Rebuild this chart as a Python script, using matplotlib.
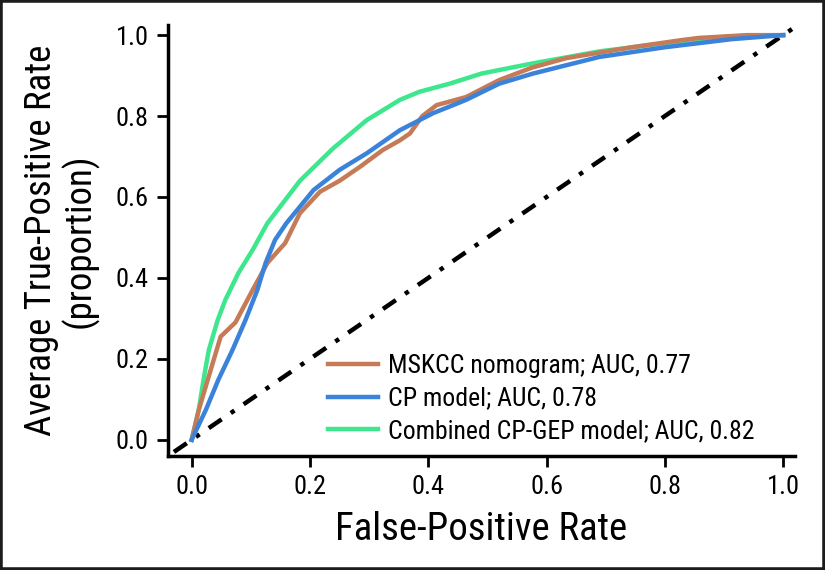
import matplotlib
matplotlib.use("Agg")
import matplotlib.pyplot as plt
from matplotlib import font_manager
from matplotlib.patches import Rectangle

# pick a condensed sans font if one is installed
cand = None
for pref in ["LiberationSansNarrow-Regular", "RobotoCondensed-Regular", "DejaVuSansCondensed.ttf",
             "OpenSans_Condensed-Regular", "OpenSansCondensed", "NotoSans-Condensed", "Condensed", "Narrow"]:
    for f in font_manager.fontManager.ttflist:
        base = f.fname.split("/")[-1]
        if pref in base and "Bold" not in base and "Italic" not in base and "Oblique" not in base:
            cand = f
            break
    if cand:
        break
if cand is not None:
    plt.rcParams['font.family'] = [cand.name, 'DejaVu Sans']
    plt.rcParams['font.stretch'] = cand.stretch
else:
    plt.rcParams['font.family'] = ['Liberation Sans', 'DejaVu Sans']

# Data
mskcc_fpr = [0.0, 0.012, 0.049, 0.074, 0.103, 0.128, 0.158, 0.183, 0.217, 0.25, 0.285, 0.323, 0.352, 0.369,
             0.39, 0.414, 0.464, 0.52, 0.576, 0.633, 0.744, 0.83, 0.857, 0.94, 1.0]
mskcc_tpr = [0.0, 0.074, 0.255, 0.29, 0.37, 0.437, 0.486, 0.56, 0.613, 0.64, 0.675, 0.716, 0.74, 0.757,
             0.80, 0.827, 0.847, 0.889, 0.92, 0.943, 0.97, 0.988, 0.993, 1.0, 1.0]
cp_fpr = [0.0, 0.024, 0.045, 0.069, 0.091, 0.111, 0.125, 0.141, 0.16, 0.206, 0.25, 0.296, 0.352, 0.408,
          0.464, 0.52, 0.577, 0.689, 0.80, 0.913, 1.0]
cp_tpr = [0.0, 0.074, 0.148, 0.222, 0.296, 0.37, 0.437, 0.494, 0.535, 0.617, 0.667, 0.708, 0.765, 0.807,
          0.84, 0.88, 0.905, 0.946, 0.97, 0.99, 1.0]
comb_fpr = [0.0, 0.012, 0.02, 0.029, 0.044, 0.057, 0.079, 0.103, 0.128, 0.183, 0.239, 0.296, 0.352, 0.385,
            0.436, 0.49, 0.576, 0.69, 0.80, 0.91, 1.0]
comb_tpr = [0.0, 0.074, 0.148, 0.222, 0.296, 0.346, 0.412, 0.469, 0.535, 0.64, 0.72, 0.79, 0.84, 0.86,
            0.88, 0.905, 0.93, 0.96, 0.98, 0.997, 1.0]
labels = ["MSKCC nomogram; AUC, 0.77", "CP model; AUC, 0.78", "Combined CP-GEP model; AUC, 0.82"]
colors = ["#C57B57", "#3A82DA", "#3EE68E"]
ticks = [0.0, 0.2, 0.4, 0.6, 0.8, 1.0]

fig = plt.figure(figsize=(8.25, 5.7), dpi=100)
ax = fig.add_axes([168/825, 1-456/570, (795-168)/825, (456-25)/570])

ax.plot([-0.03, 1.03], [-0.03, 1.03], color="black", lw=3.2, linestyle=(0, (3.5, 2.5, 1, 2.5)),
        clip_on=False, zorder=1)
ax.plot(mskcc_fpr, mskcc_tpr, color=colors[0], lw=3.2, label=labels[0], zorder=3)
ax.plot(cp_fpr, cp_tpr, color=colors[1], lw=3.2, label=labels[1], zorder=4)
ax.plot(comb_fpr, comb_tpr, color=colors[2], lw=3.2, label=labels[2], zorder=2)

ax.set_xlim(-0.04, 1.02)
ax.set_ylim(-0.04, 1.025)
ax.set_xticks(ticks)
ax.set_yticks(ticks)
ax.set_xticklabels([f"{t:.1f}" for t in ticks])
ax.set_yticklabels([f"{t:.1f}" for t in ticks])
ax.tick_params(axis="both", direction="out", length=8, width=2, labelsize=19, pad=6, colors="black")
for s in ["top", "right"]:
    ax.spines[s].set_visible(False)
for s in ["left", "bottom"]:
    ax.spines[s].set_linewidth(2.5)

ax.set_xlabel("False-Positive Rate", fontsize=28, labelpad=8)
ax.set_ylabel("Average True-Positive Rate\n(proportion)", fontsize=26.5, labelpad=12, linespacing=1.05)

leg = ax.legend(loc="lower left", bbox_to_anchor=(328/825, 1-443/570), bbox_transform=fig.transFigure,
                frameon=False, fontsize=18.5, handlelength=1.95, handletextpad=0.4,
                labelspacing=0.33, borderpad=0, borderaxespad=0)

fig.patches.append(Rectangle((0, 0), 1, 1, transform=fig.transFigure, fill=False,
                             edgecolor="#1c1c1c", lw=4, zorder=10))
fig.savefig("out.png", dpi=100)
